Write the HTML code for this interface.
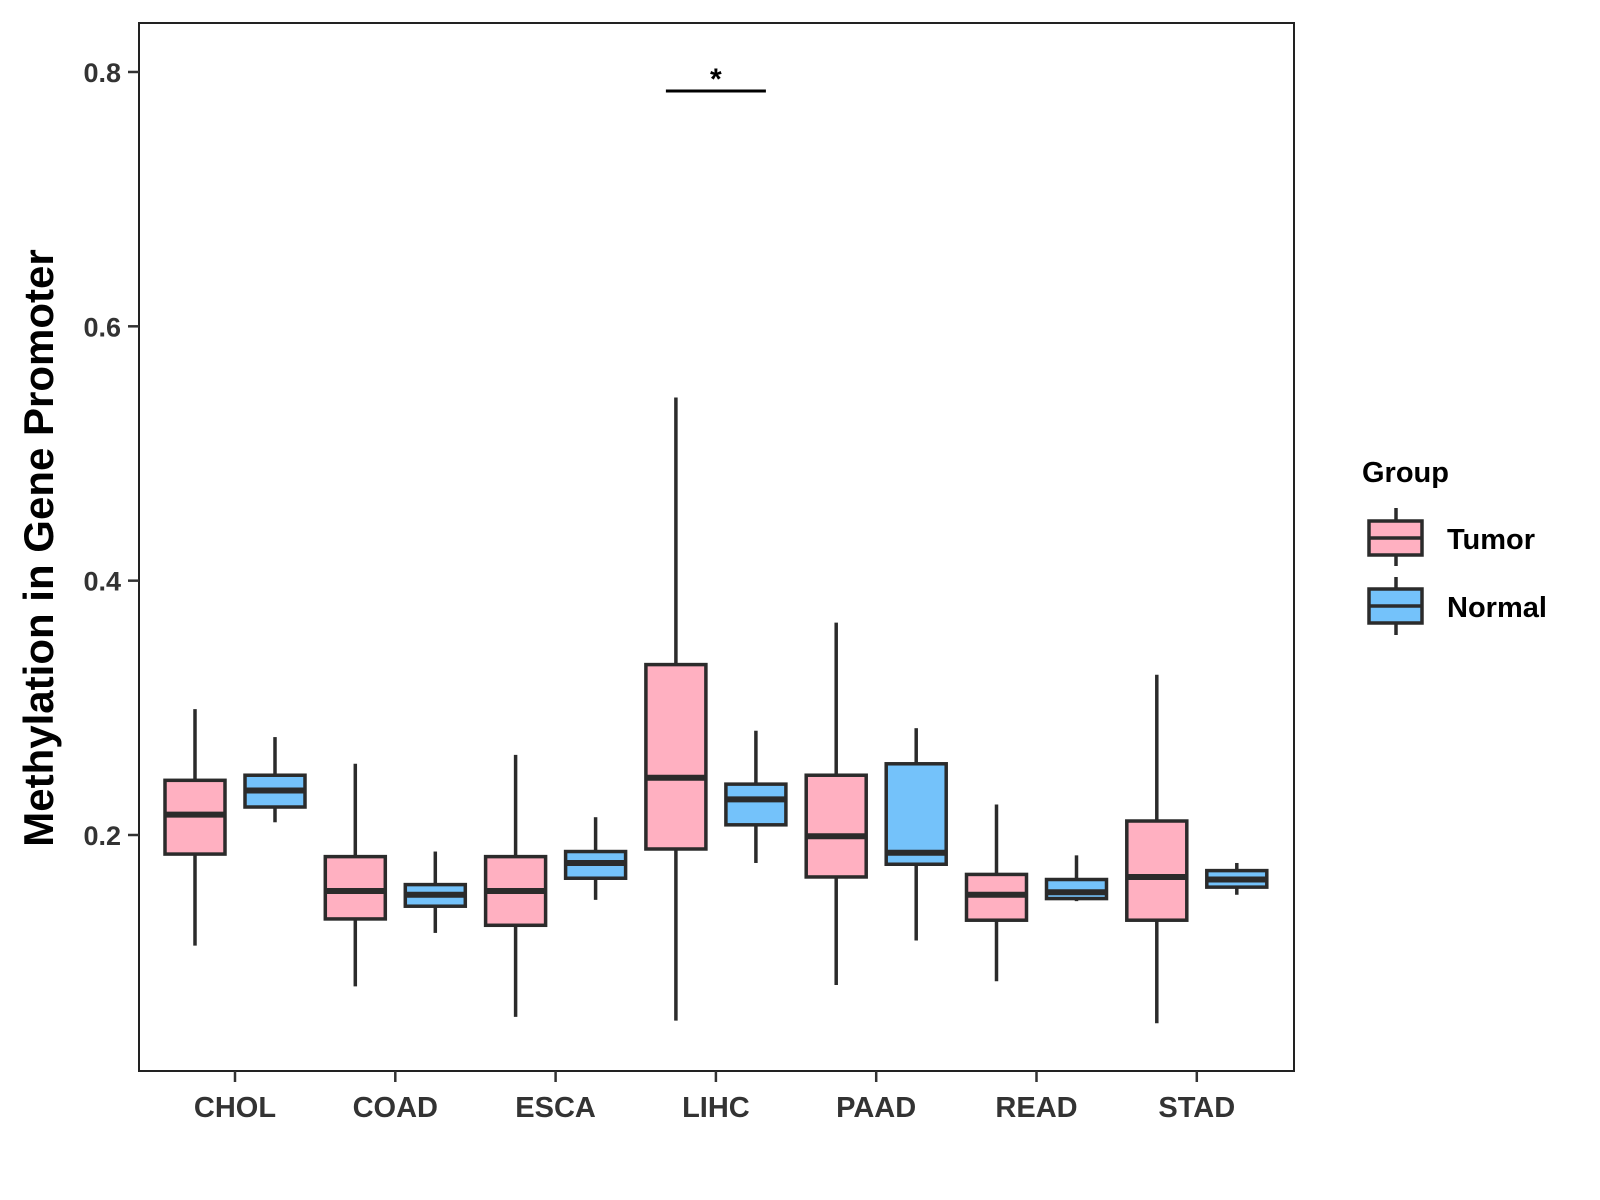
<!DOCTYPE html>
<html><head><meta charset="utf-8"><style>
body{margin:0;background:#fff}
svg{display:block;font-family:"Liberation Sans",Arial,sans-serif;font-weight:bold}
</style></head><body>
<svg id="chart" width="1600" height="1200" viewBox="0 0 1600 1200">
<rect x="139" y="23" width="1155" height="1048" fill="#fff" stroke="#222" stroke-width="2"/>
<g id="yaxis"></g>
<g id="xaxis"></g>
<g id="boxes"></g>
<g id="sig"></g>
<text x="53" y="548" transform="rotate(-90 53 548)" text-anchor="middle" font-size="42" fill="#000">Methylation in Gene Promoter</text>
<g>
<text x="1362" y="482" font-size="29" fill="#000">Group</text>
<g>
<line x1="1396" y1="508" x2="1396" y2="566" stroke="#2b2b2b" stroke-width="3.5"/>
<rect x="1369" y="521" width="53" height="34" fill="#ffb0c1" stroke="#2b2b2b" stroke-width="3.5"/>
<line x1="1369" y1="538" x2="1422" y2="538" stroke="#2b2b2b" stroke-width="3.5"/>
<text x="1447" y="549" font-size="29" fill="#000">Tumor</text>
</g>
<g>
<line x1="1396" y1="577" x2="1396" y2="635" stroke="#2b2b2b" stroke-width="3.5"/>
<rect x="1369" y="589" width="53" height="34" fill="#74c2fa" stroke="#2b2b2b" stroke-width="3.5"/>
<line x1="1369" y1="606" x2="1422" y2="606" stroke="#2b2b2b" stroke-width="3.5"/>
<text x="1447" y="617" font-size="29" fill="#000">Normal</text>
</g>
</g>
</svg>
<script>
const categories = ["CHOL","COAD","ESCA","LIHC","PAAD","READ","STAD"];
const yTicks = [0.2,0.4,0.6,0.8];
const yTickLabels = ["0.2","0.4","0.6","0.8"];
// [whiskerLow, Q1, median, Q3, whiskerHigh]
const tumorStats = [
 [0.113,0.185,0.216,0.243,0.299],
 [0.081,0.134,0.156,0.183,0.256],
 [0.057,0.129,0.156,0.183,0.263],
 [0.054,0.189,0.245,0.334,0.544],
 [0.082,0.167,0.199,0.247,0.367],
 [0.085,0.133,0.153,0.169,0.224],
 [0.052,0.133,0.167,0.211,0.326]
];
const normalStats = [
 [0.210,0.222,0.235,0.247,0.277],
 [0.123,0.144,0.153,0.161,0.187],
 [0.149,0.166,0.178,0.187,0.214],
 [0.178,0.208,0.228,0.240,0.282],
 [0.117,0.177,0.186,0.256,0.284],
 [0.148,0.150,0.155,0.165,0.184],
 [0.153,0.159,0.165,0.172,0.178]
];
const sigCategory = "LIHC";
const sigLevel = 0.785;
const sigLabel = "*";

const NS="http://www.w3.org/2000/svg";
function y(v){return 835-(v-0.2)*1271.7;}
function x(i){return 235+i*160.3;}
function mk(tag,attrs,parent){const e=document.createElementNS(NS,tag);for(const k in attrs)e.setAttribute(k,attrs[k]);parent.appendChild(e);return e;}
const ya=document.getElementById('yaxis'),xa=document.getElementById('xaxis'),bx=document.getElementById('boxes'),sg=document.getElementById('sig');
yTicks.forEach((t,i)=>{
 const l=mk('line',{x1:128,x2:139,y1:y(t),y2:y(t),stroke:'#333','stroke-width':2.5},ya);
 
 
 const tx=mk('text',{x:121,y:y(t)+10,'text-anchor':'end','font-size':27,fill:'#333'},ya);
 tx.textContent=yTickLabels[i];
 
 
});
categories.forEach((c,i)=>{
 const l=mk('line',{x1:x(i),x2:x(i),y1:1071,y2:1082,stroke:'#333','stroke-width':2.5},xa);
 
 
 const tx=mk('text',{x:x(i),y:1117,'text-anchor':'middle','font-size':29,fill:'#333'},xa);
 tx.textContent=c;
 
 
});
function drawBox(cx,s,fill,name){
 const g=mk('g',{},bx);
 
 
 const hw=30,c='#2b2b2b';
 mk('line',{x1:cx,x2:cx,y1:y(s[0]),y2:y(s[1]),stroke:c,'stroke-width':3.5},g);
 mk('line',{x1:cx,x2:cx,y1:y(s[3]),y2:y(s[4]),stroke:c,'stroke-width':3.5},g);
 mk('rect',{x:cx-hw,y:y(s[3]),width:2*hw,height:y(s[1])-y(s[3]),fill:fill,stroke:c,'stroke-width':3.5},g);
 mk('line',{x1:cx-hw,x2:cx+hw,y1:y(s[2]),y2:y(s[2]),stroke:c,'stroke-width':6},g);
}
categories.forEach((c,i)=>{
 drawBox(x(i)-40,tumorStats[i],'#ffb0c1','box-tumor-'+c.toLowerCase());
 drawBox(x(i)+40,normalStats[i],'#74c2fa','box-normal-'+c.toLowerCase());
});
const si=categories.indexOf(sigCategory);
const sl=mk('line',{x1:x(si)-50,x2:x(si)+50,y1:y(sigLevel),y2:y(sigLevel),stroke:'#000','stroke-width':3},sg);


const st=mk('text',{x:x(si),y:y(sigLevel)-2,'text-anchor':'middle','font-size':30,fill:'#000'},sg);
st.textContent=sigLabel;


</script>
</body></html>
